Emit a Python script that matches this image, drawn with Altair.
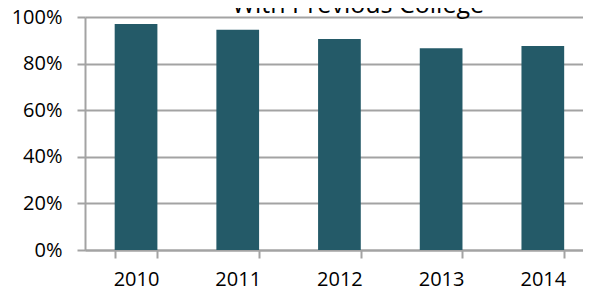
import altair as alt
import pandas as pd

years = ["2010", "2011", "2012", "2013", "2014"]
shares = [0.970, 0.945, 0.906, 0.866, 0.876]
title_text = ["With Previous College"]

df = pd.DataFrame({"year": years, "share": shares})
title_df = pd.DataFrame({"t": title_text})

FONT = "Open Sans"
GRAY = "#a3a3a3"

bars = (
    alt.Chart(df)
    .mark_bar(color="#245a68")
    .encode(
        x=alt.X(
            "year:N",
            sort=years,
            title=None,
            scale=alt.Scale(paddingInner=0.58, paddingOuter=0.2385, align=0.612),
            axis=alt.Axis(
                labelAngle=0,
                labelFont=FONT,
                labelFontSize=20,
                labelColor="black",
                labelPadding=11,
                tickBand="extent",
                tickSize=8,
                tickColor=GRAY,
                tickWidth=2,
                domainColor=GRAY,
                domainWidth=2,
                grid=False,
            ),
        ),
        y=alt.Y(
            "share:Q",
            title=None,
            scale=alt.Scale(domain=[0, 1], nice=False),
            axis=alt.Axis(
                format="%",
                values=[0, 0.2, 0.4, 0.6, 0.8, 1.0],
                labelFont=FONT,
                labelFontSize=20,
                labelColor="black",
                labelPadding=15,
                tickSize=8,
                tickColor=GRAY,
                tickWidth=2,
                domainColor=GRAY,
                domainWidth=2,
                gridColor=GRAY,
                gridWidth=2,
            ),
        ),
    )
)

title = (
    alt.Chart(title_df)
    .mark_text(font=FONT, fontSize=25, color="black", baseline="alphabetic", align="center")
    .encode(x=alt.value(273), y=alt.value(-4), text="t:N")
)

chart = (
    alt.layer(bars, title)
    .properties(
        width=498,
        height=233,
        autosize=alt.AutoSizeParams(type="none"),
        padding={"left": 77, "top": 9, "right": 0, "bottom": 38},
    )
    .configure_view(stroke=None)
)

chart.save("out.html", embed_options={"renderer": "svg", "actions": False})
